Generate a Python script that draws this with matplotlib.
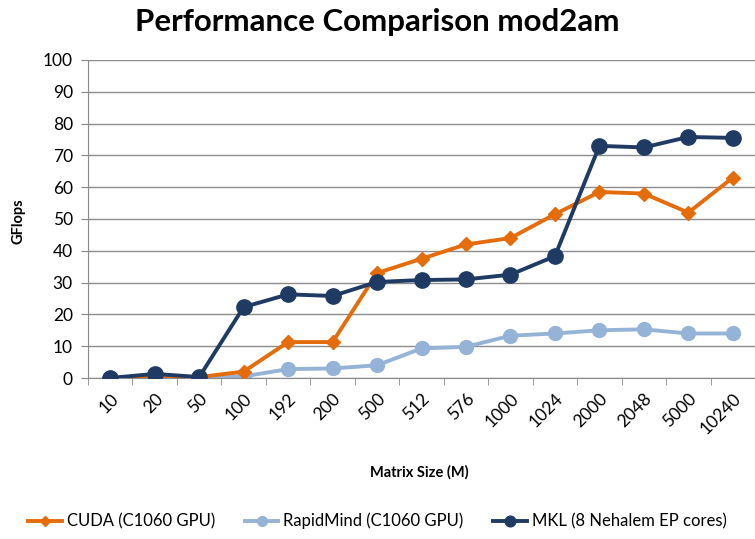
import matplotlib.pyplot as plt

sizes = ["10", "20", "50", "100", "192", "200", "500", "512", "576", "1000",
         "1024", "2000", "2048", "5000", "10240"]
cuda = [0, 0.3, 0.3, 2, 11.3, 11.3, 33, 37.5, 42, 44, 51.5, 58.5, 58, 52, 63]
rapidmind = [0, 0.2, 0.2, 0.5, 2.8, 3, 4, 9.3, 9.8, 13.3, 14, 15, 15.3, 14, 14]
mkl = [0, 1.3, 0.3, 22.3, 26.3, 25.8, 30.2, 30.8, 31, 32.5, 38.3, 73, 72.5, 75.8, 75.5]

plt.rcParams['font.family'] = ['Lato', 'DejaVu Sans']

fig = plt.figure(figsize=(7.55, 5.39), dpi=100)
ax = fig.add_axes([0.1166, 0.2987, 0.8834, 0.59])

x = list(range(len(sizes)))
ax.plot(x, cuda, color='#E46C0A', lw=2.8, marker='D', ms=7, label='CUDA (C1060 GPU)', zorder=3)
ax.plot(x, rapidmind, color='#95B3D7', lw=2.8, marker='o', ms=10, label='RapidMind (C1060 GPU)', zorder=2)
ax.plot(x, mkl, color='#1F3B63', lw=2.8, marker='o', ms=11, label='MKL (8 Nehalem EP cores)', zorder=4)

ax.set_xlim(-0.5, len(sizes) - 0.5)
ax.set_ylim(0, 100)
ax.set_yticks(range(0, 101, 10))
ax.set_xticks(x)
ax.set_xticklabels(sizes, rotation=45, ha='right', rotation_mode='anchor')
ax.set_xticks([i - 0.5 for i in range(len(sizes) + 1)], minor=True)
ax.tick_params(axis='x', which='major', length=0, labelsize=12.5, pad=9)
ax.tick_params(axis='x', which='minor', length=5, color='#888888')
ax.tick_params(axis='y', length=5, color='#888888', labelsize=12.5, pad=6)
ax.grid(axis='y', color='#8c8c8c', lw=1)
ax.set_axisbelow(True)
for s in ['top', 'right']:
    ax.spines[s].set_visible(False)
ax.spines['left'].set_color('#888888')
ax.spines['bottom'].set_color('#888888')

fig.text(0.5, 0.96, 'Performance Comparison mod2am', ha='center', va='center',
         fontsize=22.5, fontweight='bold')
fig.text(0.024, 0.59, 'GFlops', rotation=90, ha='center', va='center', fontsize=10.5, fontweight='bold')
fig.text(0.556, 0.124, 'Matrix Size (M)', ha='center', va='center', fontsize=10.5, fontweight='bold')

fig.legend(loc='center', bbox_to_anchor=(0.5, 0.033), ncol=3, frameon=False,
           fontsize=12, handlelength=2.0, columnspacing=1.8, handletextpad=0.3,
           markerscale=0.7)

fig.savefig('out.png', dpi=100)
